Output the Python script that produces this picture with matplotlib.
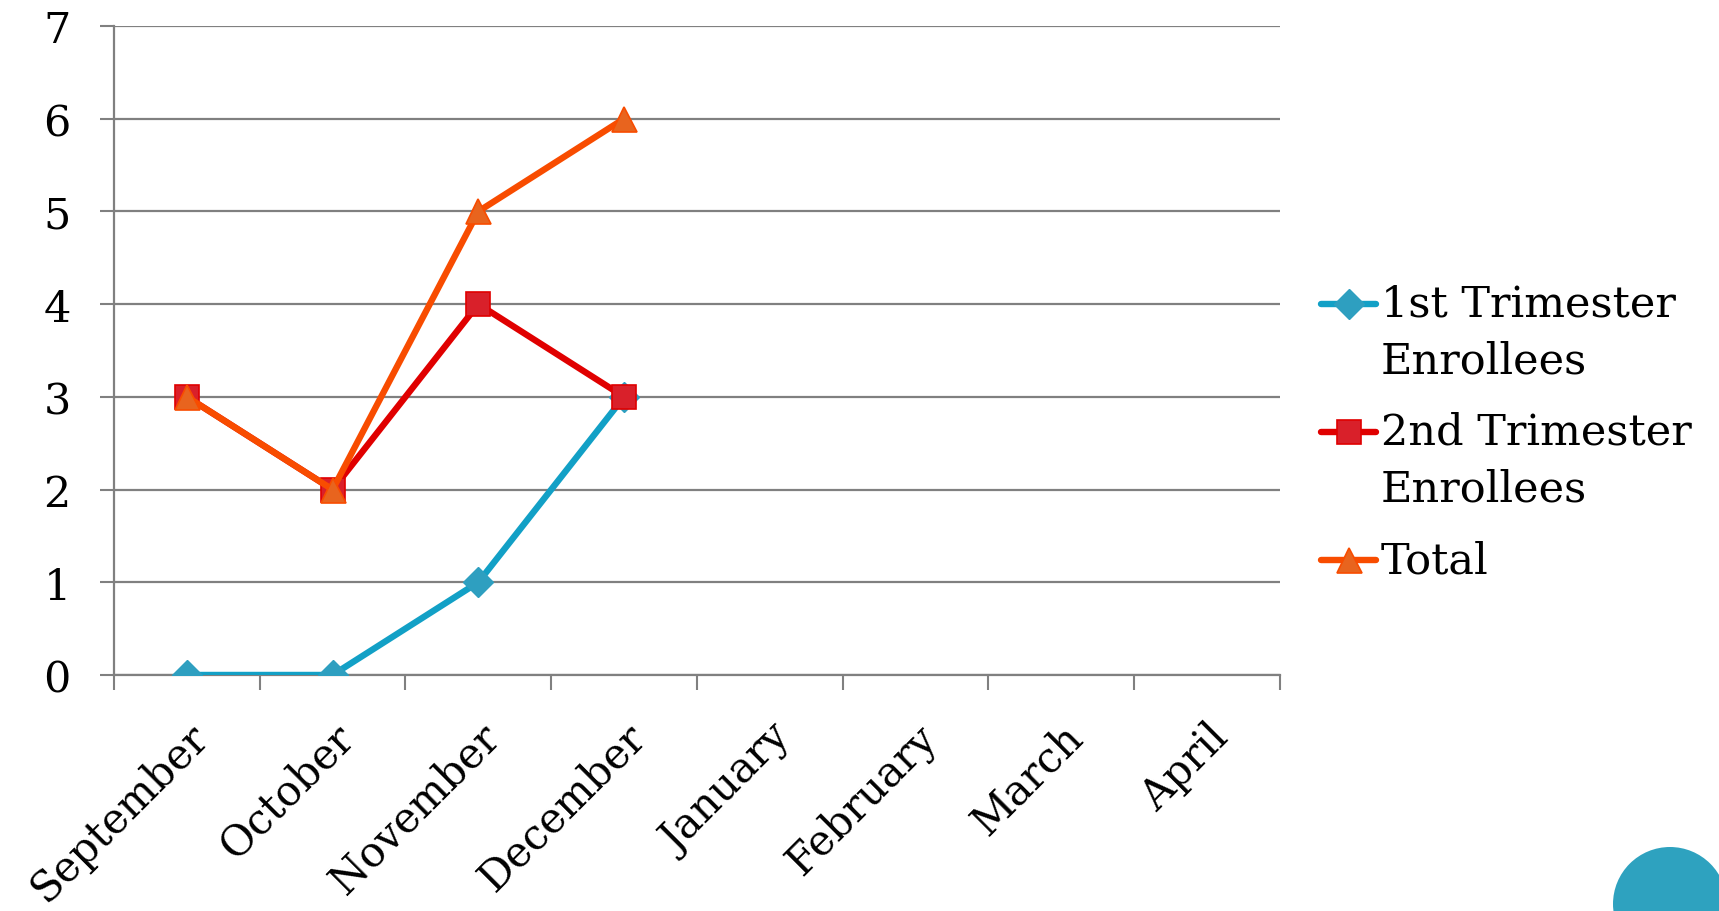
import matplotlib
matplotlib.use('Agg')
import matplotlib.pyplot as plt
from matplotlib.patches import Circle
from matplotlib.lines import Line2D

plt.rcParams['font.family'] = ['DejaVu Serif']

months = ['September', 'October', 'November', 'December',
          'January', 'February', 'March', 'April']
first_tri = [0, 0, 1, 3]
second_tri = [3, 2, 4, 3]
total = [3, 2, 5, 6]
legend_labels = [['1st Trimester', 'Enrollees'], ['2nd Trimester', 'Enrollees'], ['Total']]

fs = 31
grey = '#808080'
W, H = 1719, 912

fig = plt.figure(figsize=(W / 100, H / 100), dpi=100)
ax = fig.add_axes([0.0663, 0.2588, 0.6783, 0.7116])

styles = [
    dict(color='#12A0C6', lw=4.6, marker='D', ms=15, mfc='#2E9FC0', mec='#2E9FC0'),
    dict(color='#E00000', lw=4.6, marker='s', ms=17, mfc='#D9202A', mec='#E00000', mew=1.2),
    dict(color='#F84C00', lw=4.6, marker='^', ms=18, mfc='#E8641E', mec='#F84C00', mew=1.2),
]

x = list(range(len(first_tri)))
for i, (vals, st) in enumerate(zip([first_tri, second_tri, total], styles)):
    ax.plot(x, vals, zorder=3 + i, **st)

ax.set_xlim(-0.5, len(months) - 0.5)
ax.set_ylim(0, 7)
ax.set_yticks(range(8))
ax.yaxis.grid(True, color=grey, lw=1.6)
ax.set_axisbelow(True)

# ticks between categories
ax.set_xticks([i - 0.5 for i in range(len(months) + 1)])
ax.set_xticklabels([])
ax.set_xticks(range(len(months)), minor=True)
ax.set_xticklabels(months, minor=True, rotation=45, ha='right', va='top',
                   rotation_mode='anchor', fontsize=30)
ax.tick_params(axis='x', which='major', length=11, width=1.5, color=grey, direction='out')
ax.tick_params(axis='x', which='minor', length=0, pad=29)
ax.tick_params(axis='y', length=10, width=1.5, color=grey, labelsize=fs, pad=21)

for side in ['top', 'right']:
    ax.spines[side].set_visible(False)
for side in ['left', 'bottom']:
    ax.spines[side].set_color(grey)
    ax.spines[side].set_linewidth(1.6)

# legend drawn by hand so the handle sits on the first text line
entry_y = [305, 433, 561]
line_step = 57
for st, labels, py in zip(styles, legend_labels, entry_y):
    fy = 1 - py / H
    fig.add_artist(Line2D([1321 / W, 1376 / W], [fy, fy], transform=fig.transFigure,
                          solid_capstyle='round', markevery=[], **st))
    fig.add_artist(Line2D([1348.5 / W], [fy], transform=fig.transFigure, **st))
    for k, txt in enumerate(labels):
        fig.text(1381 / W, 1 - (py + k * line_step) / H, txt, fontsize=fs,
                 ha='left', va='center')

# decorative circle in bottom-right corner
fig.patches.append(Circle((1670 / 100, (H - 905) / 100), 0.57, transform=fig.dpi_scale_trans,
                          facecolor='#2EA2BF', edgecolor='none'))

fig.savefig('out.png', dpi=100)
